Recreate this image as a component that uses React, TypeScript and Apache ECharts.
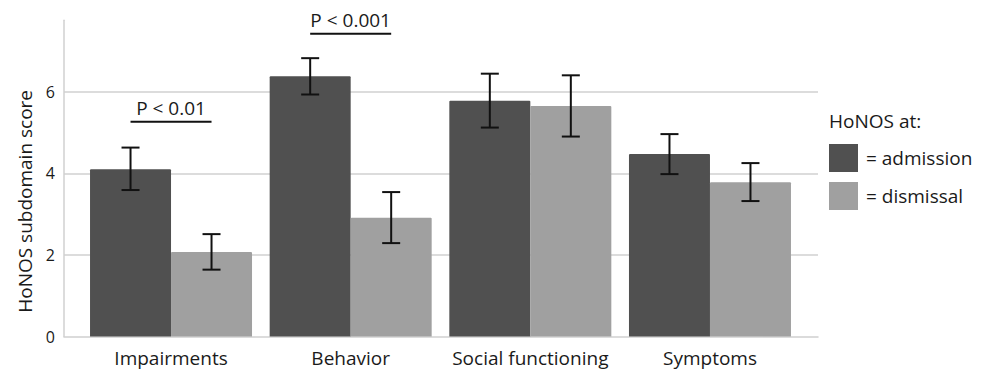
import React, { useEffect, useRef } from "react";
import * as echarts from "echarts";

// ---- data ----
const categories = ["Impairments", "Behavior", "Social functioning", "Symptoms"];
const seriesNames = ["admission", "dismissal"];
const admission = [4.1, 6.38, 5.78, 4.47];
const admissionLow = [3.59, 5.93, 5.12, 3.98];
const admissionHigh = [4.63, 6.82, 6.44, 4.96];
const dismissal = [2.07, 2.91, 5.65, 3.78];
const dismissalLow = [1.64, 2.29, 4.9, 3.32];
const dismissalHigh = [2.51, 3.54, 6.4, 4.25];
const sigCategories = ["Impairments", "Behavior"];
const sigLevels = [5.26, 7.42];
const sigLabels = ["P < 0.01", "P < 0.001"];
const yMin = 0;
const yMax = 7.75;
const yInterval = 2;

// ---- styles ----
const FONT = "Open Sans";
const TEXT = "#1a1a1a";
const DARK = "#505050";
const LIGHT = "#a0a0a0";
const GRIDC = "#d0d0d0";
const BAR_W = 81;
const TOP = 20.2;
const BOTTOM = 34.4;

export default function App() {
  const ref = useRef<HTMLDivElement>(null);
  useEffect(() => {
    if (!ref.current) return;
    const chart = echarts.init(ref.current, undefined, { renderer: "svg" });

    const errData = [
      ...categories.map((_, i) => [i, admissionLow[i], admissionHigh[i], -1]),
      ...categories.map((_, i) => [i, dismissalLow[i], dismissalHigh[i], 1]),
    ];
    const sigData = sigCategories.map((c, i) => [categories.indexOf(c), sigLevels[i]]);

    const option: any = {
      animation: false,
      backgroundColor: "#ffffff",
      textStyle: { fontFamily: FONT, color: TEXT },
      title: {
        text: "HoNOS at:",
        left: 829,
        top: 111,
        padding: 0,
        textStyle: { fontFamily: FONT, fontSize: 19, fontWeight: "normal", color: TEXT },
      },
      legend: {
        data: seriesNames,
        orient: "vertical",
        left: 829,
        top: 144,
        padding: 0,
        itemWidth: 29,
        itemHeight: 28,
        itemGap: 10,
        icon: "rect",
        formatter: (n: string) => "= " + n,
        textStyle: { fontFamily: FONT, fontSize: 19, color: TEXT, padding: [0, 0, 0, 3] },
      },
      grid: [
        { left: 64, right: 168, top: TOP, bottom: BOTTOM },
        { left: 81.2, right: 186.2, top: TOP, bottom: BOTTOM },
      ],
      xAxis: [
        {
          type: "category",
          gridIndex: 0,
          data: categories,
          axisLine: { show: true, lineStyle: { color: GRIDC, width: 1.5 } },
          axisTick: { show: false },
          axisLabel: { show: false },
          splitLine: { show: false },
        },
        {
          type: "category",
          gridIndex: 1,
          data: categories,
          axisLine: { show: false },
          axisTick: { show: false },
          axisLabel: { interval: 0, fontFamily: FONT, fontSize: 19, color: TEXT, margin: 12 },
        },
      ],
      yAxis: [
        {
          type: "value",
          gridIndex: 0,
          min: yMin,
          max: yMax,
          interval: yInterval,
          name: "HoNOS subdomain score",
          nameLocation: "middle",
          nameGap: 30,
          nameTextStyle: { fontFamily: FONT, fontSize: 19, color: TEXT, padding: [0, 46, 0, 0] },
          axisLine: { show: true, lineStyle: { color: GRIDC, width: 1.5 } },
          axisTick: { show: false },
          axisLabel: {
            fontFamily: FONT,
            fontSize: 16,
            color: TEXT,
            margin: 9,
            showMaxLabel: false,
            verticalAlign: "middle",
            padding: [0, 0, 10, 0],
          },
          splitLine: { show: true, showMaxLine: false, showMinLine: false, lineStyle: { color: GRIDC, width: 1.5 } },
        },
        {
          type: "value",
          gridIndex: 1,
          min: yMin,
          max: yMax,
          interval: yInterval,
          show: false,
          splitLine: { show: false },
        },
      ],
      series: [
        {
          name: seriesNames[0],
          type: "bar",
          xAxisIndex: 1,
          yAxisIndex: 1,
          data: admission,
          barWidth: BAR_W,
          barGap: "0%",
          itemStyle: { color: DARK, borderRadius: [1, 1, 0, 0] },
        },
        {
          name: seriesNames[1],
          type: "bar",
          xAxisIndex: 1,
          yAxisIndex: 1,
          data: dismissal,
          barWidth: BAR_W,
          barGap: "0%",
          itemStyle: { color: LIGHT, borderRadius: [1, 1, 0, 0] },
        },
        {
          name: "errors",
          type: "custom",
          xAxisIndex: 1,
          yAxisIndex: 1,
          z: 5,
          data: errData,
          renderItem: (params: any, api: any) => {
            const idx = api.value(0);
            const lo = api.value(1);
            const hi = api.value(2);
            const side = api.value(3);
            const pHi = api.coord([idx, hi]);
            const pLo = api.coord([idx, lo]);
            const x = pHi[0] + (side * BAR_W) / 2;
            const st = { stroke: "#111111", lineWidth: 2 };
            const cap = 9;
            return {
              type: "group",
              children: [
                { type: "line", shape: { x1: x, y1: pHi[1], x2: x, y2: pLo[1] }, style: st },
                { type: "line", shape: { x1: x - cap, y1: pHi[1], x2: x + cap, y2: pHi[1] }, style: st },
                { type: "line", shape: { x1: x - cap, y1: pLo[1], x2: x + cap, y2: pLo[1] }, style: st },
              ],
            };
          },
        },
        {
          name: "significance",
          type: "custom",
          xAxisIndex: 1,
          yAxisIndex: 1,
          z: 5,
          data: sigData,
          renderItem: (params: any, api: any) => {
            const p = api.coord([api.value(0), api.value(1)]);
            const half = BAR_W / 2;
            return {
              type: "group",
              children: [
                {
                  type: "line",
                  shape: { x1: p[0] - half, y1: p[1], x2: p[0] + half, y2: p[1] },
                  style: { stroke: "#111111", lineWidth: 2 },
                },
                {
                  type: "text",
                  x: p[0],
                  y: p[1] - 14,
                  style: {
                    text: sigLabels[params.dataIndex],
                    align: "center",
                    verticalAlign: "middle",
                    fontFamily: FONT,
                    fontSize: 19,
                    fill: TEXT,
                  },
                },
              ],
            };
          },
        },
      ],
    };
    chart.setOption(option);
    return () => chart.dispose();
  }, []);
  return (
    <div
      ref={ref}
      style={{ position: "fixed", left: 0, top: 0, width: 986, height: 371, background: "#fff" }}
    />
  );
}
